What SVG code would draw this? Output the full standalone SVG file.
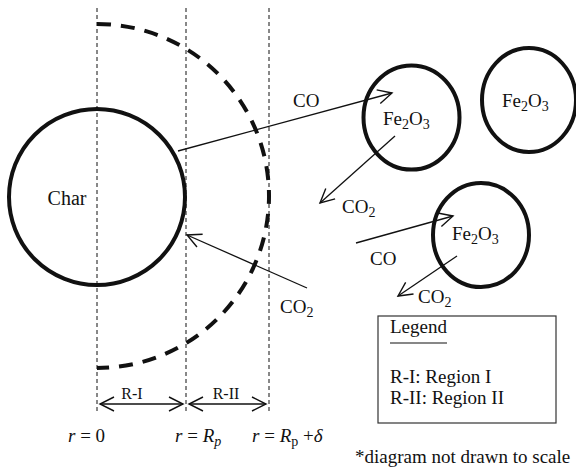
<svg xmlns="http://www.w3.org/2000/svg" width="576" height="470" viewBox="0 0 576 470" font-family="Liberation Serif, Times New Roman, serif" font-size="19">
<style>
text{fill:#111}
.it{font-style:italic}
.sub{font-size:14px}
.guide{stroke:#111;stroke-width:1;stroke-dasharray:4 3;fill:none}
.ball{stroke:#111;stroke-width:4;fill:none}
.arr{stroke:#111;stroke-width:1.3;fill:none;marker-end:url(#open)}
.dbl{stroke:#111;stroke-width:1.3;fill:none;marker-end:url(#open);marker-start:url(#openS)}
</style>
<defs>
<marker id="open" viewBox="-16 -9 18 18" markerWidth="18" markerHeight="18" refX="0" refY="0" orient="auto" markerUnits="userSpaceOnUse">
<path d="M -14 -7 L 0 0 L -14 7" fill="none" stroke="#111" stroke-width="1.4"/>
</marker>
<marker id="openS" viewBox="-2 -9 18 18" markerWidth="18" markerHeight="18" refX="0" refY="0" orient="auto" markerUnits="userSpaceOnUse">
<path d="M 14 -7 L 0 0 L 14 7" fill="none" stroke="#111" stroke-width="1.4"/>
</marker>
</defs>
<rect width="576" height="470" fill="#fff"/>
<g id="guides">
<line class="guide" x1="97" y1="8" x2="97" y2="412"/>
<line class="guide" x1="186" y1="8" x2="186" y2="412"/>
<line class="guide" x1="269" y1="8" x2="269" y2="412"/>
</g>
<g id="boundary">
<path d="M 97 24 A 172 172 0 0 1 97 368" fill="none" stroke="#111" stroke-width="4" stroke-dasharray="14 10"/>
</g>
<g id="char">
<circle class="ball" cx="97" cy="197" r="88"/>
<text x="67" y="205" text-anchor="middle" font-size="20">Char</text>
</g>
<g id="fe1">
<ellipse class="ball" cx="411.5" cy="117.5" rx="48" ry="52"/>
<text x="383" y="125">Fe<tspan class="sub" dy="4">2</tspan><tspan dy="-4">O</tspan><tspan class="sub" dy="4">3</tspan></text>
</g>
<g id="fe2">
<ellipse class="ball" cx="529" cy="100" rx="47" ry="52"/>
<text x="502" y="107">Fe<tspan class="sub" dy="4">2</tspan><tspan dy="-4">O</tspan><tspan class="sub" dy="4">3</tspan></text>
</g>
<g id="fe3">
<ellipse class="ball" cx="481" cy="235" rx="48" ry="52"/>
<text x="452" y="240">Fe<tspan class="sub" dy="4">2</tspan><tspan dy="-4">O</tspan><tspan class="sub" dy="4">3</tspan></text>
</g>
<g id="connectors">
<line class="arr" x1="178" y1="151" x2="392" y2="93"/>
<line class="arr" x1="395" y1="136" x2="320" y2="203"/>
<line class="arr" x1="307" y1="288" x2="187" y2="235"/>
<line class="arr" x1="356" y1="243" x2="453" y2="216"/>
<line class="arr" x1="457" y1="256" x2="398" y2="296"/>
<line class="dbl" x1="100" y1="404" x2="183" y2="404"/>
<line class="dbl" x1="189" y1="404" x2="266" y2="404"/>
</g>
<g id="labels">
<text x="293" y="107">CO</text>
<text x="342" y="213">CO<tspan class="sub" dy="4">2</tspan></text>
<text x="280" y="313">CO<tspan class="sub" dy="4">2</tspan></text>
<text x="370" y="265">CO</text>
<text x="418" y="303">CO<tspan class="sub" dy="4">2</tspan></text>
<text x="132" y="399" text-anchor="middle" font-size="16">R-I</text>
<text x="226" y="399" text-anchor="middle" font-size="16">R-II</text>
<text x="68" y="442"><tspan class="it">r</tspan> = 0</text>
<text x="175" y="442"><tspan class="it">r</tspan> = <tspan class="it">R</tspan><tspan class="sub it" dy="4">p</tspan></text>
<text x="252" y="442"><tspan class="it">r</tspan> = <tspan class="it">R</tspan><tspan class="sub" dy="4">p</tspan><tspan dy="-4"> +</tspan><tspan class="it">δ</tspan></text>
</g>
<g id="legend">
<rect x="378" y="316" width="178" height="107" fill="none" stroke="#333" stroke-width="1.2"/>
<text x="390" y="333">Legend</text>
<line x1="390" y1="343" x2="447" y2="343" stroke="#111" stroke-width="1.2"/>
<text x="390" y="383">R-I: Region I</text>
<text x="390" y="404">R-II: Region II</text>
</g>
<text x="355" y="463">*diagram not drawn to scale</text>
</svg>
